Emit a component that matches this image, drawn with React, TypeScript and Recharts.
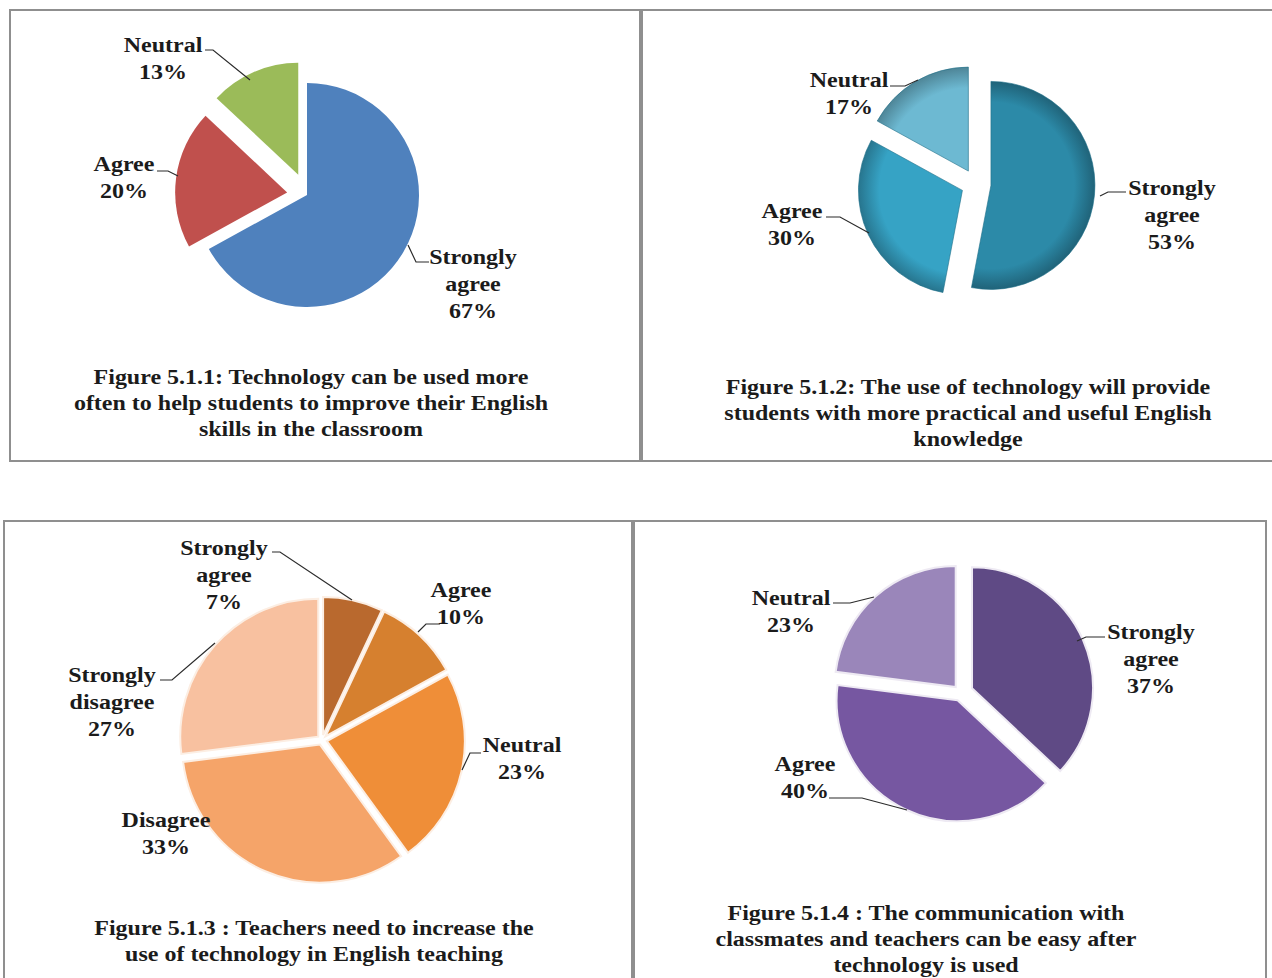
import React from "react";
import { PieChart, Pie, Cell } from "recharts";

// Figure 5.1.1
const fig1Names = ["Strongly agree", "Agree", "Neutral"];
const fig1Values = [67, 20, 13];
const fig1Colors = ["#4F81BD", "#C0504D", "#9BBB59"];
const fig1Title = [
  "Figure 5.1.1: Technology can be used more",
  "often to help students to improve their English",
  "skills in the classroom",
];

// Figure 5.1.2
const fig2Names = ["Strongly agree", "Agree", "Neutral"];
const fig2Values = [53, 30, 17];
const fig2Colors = ["#2C8AA8", "#36A3C5", "#6DB9D2"];
const fig2Title = [
  "Figure 5.1.2: The use of technology will provide",
  "students with more practical and useful English",
  "knowledge",
];

// Figure 5.1.3
const fig3Names = ["Strongly agree", "Agree", "Neutral", "Disagree", "Strongly disagree"];
const fig3Values = [7, 10, 23, 33, 27];
const fig3Colors = ["#B9692E", "#D6802F", "#EF8E38", "#F5A469", "#F8C1A0"];
const fig3Title = [
  "Figure 5.1.3 : Teachers need to increase the",
  "use of technology in English teaching",
];

// Figure 5.1.4
const fig4Names = ["Strongly agree", "Agree", "Neutral"];
const fig4Values = [37, 40, 23];
const fig4Colors = ["#5F4A85", "#7657A1", "#9A86BA"];
const fig4Title = [
  "Figure 5.1.4 : The communication with",
  "classmates and teachers can be easy after",
  "technology is used",
];

const FONT = "'Liberation Serif', 'Times New Roman', Times, serif";
const STRETCH = 1.2;

type Pt = [number, number];
type LabelPos = { x: number; y: number; lead?: Pt[] };
type Spec = {
  id: string;
  names: string[];
  values: number[];
  colors: string[];
  title: string[];
  box: { left: number; top: number; width: number; height: number };
  center: Pt;
  r: number;
  explode: number[];
  stroke: string;
  strokeWidth: number;
  bevel?: boolean;
  labels: LabelPos[];
  titleAt: Pt;
};

// layout (page coordinates)
const specs: Spec[] = [
  {
    id: "f1",
    names: fig1Names,
    values: fig1Values,
    colors: fig1Colors,
    title: fig1Title,
    box: { left: 9, top: 9, width: 632, height: 451 },
    center: [307, 195],
    r: 112,
    explode: [0, 20, 22],
    stroke: "none",
    strokeWidth: 0,
    labels: [
      { x: 473, y: 264, lead: [[408, 245], [416, 262], [429, 262]] },
      { x: 124, y: 171, lead: [[157, 171], [168, 171], [178, 176]] },
      { x: 163, y: 52, lead: [[205, 50], [213, 50], [250, 80]] },
    ],
    titleAt: [311, 384],
  },
  {
    id: "f2",
    names: fig2Names,
    values: fig2Values,
    colors: fig2Colors,
    title: fig2Title,
    box: { left: 640, top: 9, width: 632, height: 451 },
    center: [976, 184],
    r: 104,
    explode: [15, 15, 15],
    stroke: "#1f6f88",
    strokeWidth: 0.6,
    bevel: true,
    labels: [
      { x: 1172, y: 195, lead: [[1100, 196], [1108, 192], [1126, 192]] },
      { x: 792, y: 218, lead: [[826, 217], [840, 217], [869, 233]] },
      { x: 849, y: 87, lead: [[890, 86], [905, 86], [918, 80]] },
    ],
    titleAt: [968, 394],
  },
  {
    id: "f3",
    names: fig3Names,
    values: fig3Values,
    colors: fig3Colors,
    title: fig3Title,
    box: { left: 3, top: 520, width: 631, height: 458 },
    center: [322, 740],
    r: 138,
    explode: [5, 5, 5, 5, 5],
    stroke: "#FCEEE3",
    strokeWidth: 2,
    labels: [
      { x: 224, y: 555, lead: [[272, 552], [280, 552], [352, 600]] },
      { x: 461, y: 597, lead: [[440, 624], [426, 624], [418, 632]] },
      { x: 522, y: 752, lead: [[481, 753], [470, 753], [462, 770]] },
      { x: 166, y: 827 },
      { x: 112, y: 682, lead: [[160, 680], [172, 680], [215, 643]] },
    ],
    titleAt: [314, 935],
  },
  {
    id: "f4",
    names: fig4Names,
    values: fig4Values,
    colors: fig4Colors,
    title: fig4Title,
    box: { left: 632, top: 520, width: 633, height: 458 },
    center: [961, 693],
    r: 121,
    explode: [12, 8, 8],
    stroke: "#EEEAF3",
    strokeWidth: 2,
    labels: [
      { x: 1151, y: 639, lead: [[1077, 641], [1086, 637], [1105, 637]] },
      { x: 805, y: 771, lead: [[829, 798], [862, 798], [907, 810]] },
      { x: 791, y: 605, lead: [[833, 603], [850, 603], [874, 597]] },
    ],
    titleAt: [926, 920],
  },
];

function Lines({ x, y, lines, gap }: { x: number; y: number; lines: string[]; gap: number }) {
  return (
    <text
      transform={`translate(${x} ${y}) scale(${STRETCH} 1)`}
      textAnchor="middle"
      fontFamily={FONT}
      fontWeight="bold"
      fontSize={20}
      fill="#1b1b1b"
    >
      {lines.map((t, k) => (
        <tspan key={k} x={0} y={k * gap}>
          {t}
        </tspan>
      ))}
    </text>
  );
}

function darken(hex: string, f: number) {
  const n = parseInt(hex.slice(1), 16);
  const c = [(n >> 16) & 255, (n >> 8) & 255, n & 255].map((v) => Math.round(v * f));
  return `rgb(${c[0]},${c[1]},${c[2]})`;
}

function FigurePie({ spec }: { spec: Spec }) {
  const data = spec.names.map((name, i) => ({ name, value: spec.values[i] }));
  const total = spec.values.reduce((a, b) => a + b, 0);
  const ox = spec.box.left;
  const oy = spec.box.top;

  // explode each slice along its mid angle
  let acc = 0;
  const centers = spec.values.map((v, i) => {
    const mid = ((90 - ((acc + v / 2) / total) * 360) * Math.PI) / 180;
    acc += v;
    return [
      spec.center[0] - ox + spec.explode[i] * Math.cos(mid),
      spec.center[1] - oy - spec.explode[i] * Math.sin(mid),
    ];
  });

  const makeLabel = (i: number) => (props: any) => {
    const idx = typeof props.index === "number" ? props.index : spec.names.indexOf(props.name);
    if (idx !== i) return null;
    const l = spec.labels[i];
    const lines = [...spec.names[i].split(" "), `${spec.values[i]}%`];
    return (
      <g>
        {l.lead && (
          <polyline
            points={l.lead.map((p) => `${p[0] - ox},${p[1] - oy}`).join(" ")}
            fill="none"
            stroke="#2b2b2b"
            strokeWidth={1.2}
          />
        )}
        <Lines x={l.x - ox} y={l.y - oy} lines={lines} gap={27} />
      </g>
    );
  };

  return (
    <div style={{ position: "absolute", left: ox, top: oy }}>
      <PieChart width={spec.box.width} height={spec.box.height} margin={{ top: 0, right: 0, bottom: 0, left: 0 }}>
        <defs>
          {spec.bevel &&
            spec.colors.map((c, i) => (
              <radialGradient
                key={i}
                id={`${spec.id}-g${i}`}
                gradientUnits="userSpaceOnUse"
                cx={centers[i][0]}
                cy={centers[i][1]}
                r={spec.r}
              >
                <stop offset="0%" stopColor={c} />
                <stop offset="80%" stopColor={c} />
                <stop offset="100%" stopColor={darken(c, 0.72)} />
              </radialGradient>
            ))}
        </defs>
        {data.map((_, i) => (
          <Pie
            key={i}
            data={data}
            dataKey="value"
            nameKey="name"
            cx={centers[i][0]}
            cy={centers[i][1]}
            outerRadius={spec.r}
            startAngle={90}
            endAngle={-270}
            isAnimationActive={false}
            labelLine={false}
            label={makeLabel(i)}
          >
            {data.map((__, j) => (
              <Cell
                key={j}
                fill={j === i ? (spec.bevel ? `url(#${spec.id}-g${j})` : spec.colors[j]) : "none"}
                stroke={j === i ? spec.stroke : "none"}
                strokeWidth={spec.strokeWidth}
              />
            ))}
          </Pie>
        ))}
      </PieChart>
    </div>
  );
}

const border = "2px solid #8f8f8f";

export default function App() {
  return (
    <div
      style={{
        position: "absolute",
        left: 0,
        top: 0,
        width: 1272,
        height: 978,
        overflow: "hidden",
        background: "#fff",
      }}
    >
      {/* panel frames */}
      <div style={{ position: "absolute", left: 9, top: 9, width: 630, height: 449, border }} />
      <div style={{ position: "absolute", left: 639, top: 9, width: 640, height: 449, border }} />
      <div style={{ position: "absolute", left: 3, top: 520, width: 628, height: 470, border }} />
      <div style={{ position: "absolute", left: 631, top: 520, width: 632, height: 470, border }} />

      {specs.map((s) => (
        <FigurePie key={s.id} spec={s} />
      ))}

      <svg width={1272} height={978} style={{ position: "absolute", left: 0, top: 0, pointerEvents: "none" }}>
        {specs.map((s) => (
          <Lines key={s.id} x={s.titleAt[0]} y={s.titleAt[1]} lines={s.title} gap={26} />
        ))}
      </svg>
    </div>
  );
}
